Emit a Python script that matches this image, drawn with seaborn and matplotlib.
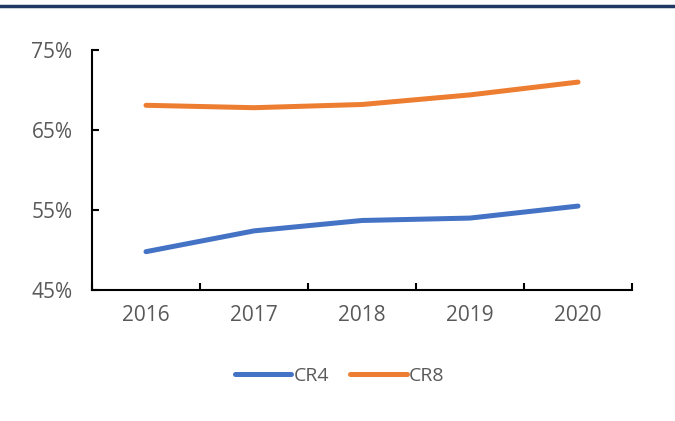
import matplotlib
matplotlib.use("Agg")
import matplotlib.pyplot as plt
from matplotlib.lines import Line2D
from matplotlib.ticker import FixedLocator, FuncFormatter
import seaborn as sns
import pandas as pd

# data
years = ["2016", "2017", "2018", "2019", "2020"]
cr4 = [49.8, 52.4, 53.7, 54.0, 55.5]
cr8 = [68.1, 67.8, 68.2, 69.4, 71.0]
series_names = ["CR4", "CR8"]
y_ticks = [45, 55, 65, 75]

sns.set_style("white")
plt.rcParams["font.family"] = ["Open Sans", "DejaVu Sans"]

df = pd.DataFrame({
    "year": years * 2,
    "value": cr4 + cr8,
    "series": [series_names[0]] * len(years) + [series_names[1]] * len(years),
})

fig = plt.figure(figsize=(6.75, 4.21), dpi=100)
ax = fig.add_axes([0.1363, 0.311, 0.80, 0.570])

palette = {"CR4": "#4472C4", "CR8": "#ED7D31"}
sns.lineplot(data=df, x="year", y="value", hue="series", palette=palette,
             linewidth=3.6, ax=ax, sort=False)
for ln in ax.get_lines():
    ln.set_solid_capstyle("round")
    ln.set_solid_joinstyle("round")

ax.set_xlim(-0.5, len(years) - 0.5)
ax.set_ylim(y_ticks[0], y_ticks[-1])
ax.yaxis.set_major_locator(FixedLocator(y_ticks))
ax.yaxis.set_major_formatter(FuncFormatter(lambda v, p: f"{v:.0f}%"))

ax.set_xticks(range(len(years)))
ax.set_xticks([i - 0.5 for i in range(len(years) + 1)], minor=True)
ax.tick_params(axis="x", which="major", bottom=True, length=0, pad=11,
               labelsize=15, labelcolor="#595959")
ax.tick_params(axis="x", which="minor", bottom=True, direction="in",
               length=5, width=1.5, color="black")
ax.tick_params(axis="y", which="major", left=True, direction="in", length=5,
               width=1.5, color="black", pad=14, labelsize=15, labelcolor="#595959")

for side in ["top", "right"]:
    ax.spines[side].set_visible(False)
for side in ["left", "bottom"]:
    ax.spines[side].set_color("black")
    ax.spines[side].set_linewidth(1.5)

ax.set_xlabel("")
ax.set_ylabel("")

handles, labels = ax.get_legend_handles_labels()
for h in handles:
    h.set_solid_capstyle("round")
ax.legend(handles, labels, loc="center", bbox_to_anchor=(0.503, 0.108),
          bbox_transform=fig.transFigure, ncol=2, frameon=False,
          fontsize=14, handlelength=2.9, handletextpad=0.1, columnspacing=1.1,
          labelcolor="#595959")

# dark rule across the top of the figure
fig.add_artist(Line2D([0, 1], [0.985, 0.985], transform=fig.transFigure,
                      color="#1F3864", linewidth=2.5))

plt.savefig("out.png", dpi=100)
plt.close()
